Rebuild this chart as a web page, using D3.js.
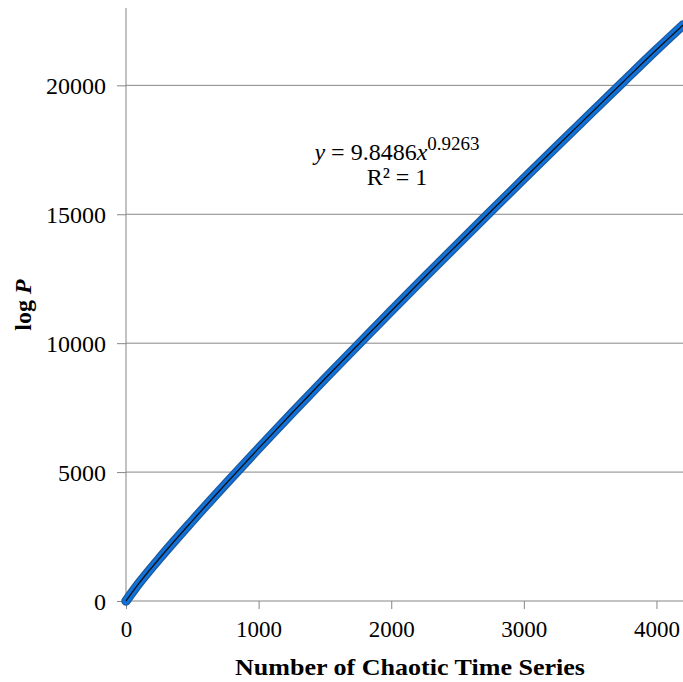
<!DOCTYPE html>
<html>
<head>
<meta charset="utf-8">
<script src="https://cdn.jsdelivr.net/npm/d3@7"></script>
<style>
  body { margin: 0; background: #fff; }
  text { font-family: "Liberation Serif", "Times New Roman", serif; }
</style>
</head>
<body>
<svg width="683" height="682"></svg>
<script>
// values
const seriesX = [0, 100, 250, 500, 750, 1000, 1250, 1500, 1750, 2000, 2250, 2500, 2750, 3000, 3250, 3500, 3750, 4000, 4200];
const seriesY = [0, 700, 1640, 3110, 4530, 5920, 7280, 8620, 9940, 11250, 12550, 13830, 15110, 16380, 17640, 18890, 20140, 21380, 22340];
const xTicks = [0, 1000, 2000, 3000, 4000];
const yTicks = [0, 5000, 10000, 15000, 20000];

const points = seriesX.map((x, i) => ({ x: x, y: seriesY[i] }));

const svg = d3.select("svg");

// plot area
const plotLeft = 126, plotRight = 683, plotTop = 8, plotBottom = 601;

const x = d3.scaleLinear().domain([0, 4200]).range([plotLeft, plotRight]);
const y = d3.scaleLinear().domain([0, 23000]).range([plotBottom, plotTop]);

// gridlines
svg.append("g")
  .selectAll("line")
  .data(yTicks.slice(1))
  .join("line")
  .attr("x1", plotLeft)
  .attr("x2", plotRight)
  .attr("y1", (d) => y(d))
  .attr("y2", (d) => y(d))
  .attr("stroke", "#868686")
  .attr("stroke-width", 1);

// y axis
const yAxis = svg.append("g")
  .attr("transform", `translate(${plotLeft},0)`)
  .call(d3.axisLeft(y).tickValues(yTicks).tickSize(9).tickPadding(11).tickFormat(d3.format("d")));
yAxis.select(".domain").attr("stroke", "#868686").attr("d", `M0,${plotBottom}V${plotTop}`);
yAxis.selectAll(".tick line").attr("stroke", "#868686");
yAxis.selectAll(".tick text")
  .attr("font-size", 24)
  .attr("fill", "#000")
  .attr("dy", "0.34em");

// x axis
const xAxis = svg.append("g")
  .attr("transform", `translate(0,${plotBottom})`)
  .call(d3.axisBottom(x).tickValues(xTicks).tickSize(8).tickPadding(12).tickFormat(d3.format("d")));
xAxis.select(".domain").attr("stroke", "#868686").attr("d", `M${plotLeft},0H${plotRight}`);
xAxis.selectAll(".tick line").attr("stroke", "#868686");
xAxis.selectAll(".tick text")
  .attr("font-size", 23)
  .attr("fill", "#000");

// data series (thick blue) and trendline (thin black)
const line = d3.line()
  .x((d) => x(d.x))
  .y((d) => y(d.y))
  .curve(d3.curveMonotoneX);

svg.append("path")
  .datum(points)
  .attr("d", line)
  .attr("fill", "none")
  .attr("stroke", "#1d5a9e")
  .attr("stroke-width", 9.5)
  .attr("stroke-linecap", "round");
svg.append("path")
  .datum(points)
  .attr("d", line)
  .attr("fill", "none")
  .attr("stroke", "#1272da")
  .attr("stroke-width", 7)
  .attr("stroke-linecap", "round");
svg.append("path")
  .datum(points)
  .attr("d", line)
  .attr("fill", "none")
  .attr("stroke", "#111")
  .attr("stroke-width", 1.3);

// equation label
const eq = svg.append("text")
  .attr("x", 397)
  .attr("y", 160)
  .attr("text-anchor", "middle")
  .attr("font-size", 24)
  .attr("fill", "#000");
eq.append("tspan").attr("font-style", "italic").text("y");
eq.append("tspan").text(" = 9.8486");
eq.append("tspan").attr("font-style", "italic").text("x");
eq.append("tspan").attr("font-size", 19).attr("dy", -10).text("0.9263");

svg.append("text")
  .attr("x", 397)
  .attr("y", 185)
  .attr("text-anchor", "middle")
  .attr("font-size", 24)
  .attr("fill", "#000")
  .text("R² = 1");

// axis titles
svg.append("text")
  .attr("x", 410)
  .attr("y", 675)
  .attr("text-anchor", "middle")
  .attr("font-size", 24)
  .attr("font-weight", "bold")
  .attr("fill", "#000")
  .attr("textLength", 350)
  .attr("lengthAdjust", "spacingAndGlyphs")
  .text("Number of Chaotic Time Series");

const yTitle = svg.append("text")
  .attr("transform", "translate(31,305) rotate(-90)")
  .attr("text-anchor", "middle")
  .attr("font-size", 24)
  .attr("font-weight", "bold")
  .attr("fill", "#000");
yTitle.append("tspan").text("log ");
yTitle.append("tspan").attr("font-style", "italic").text("P");
</script>
</body>
</html>
